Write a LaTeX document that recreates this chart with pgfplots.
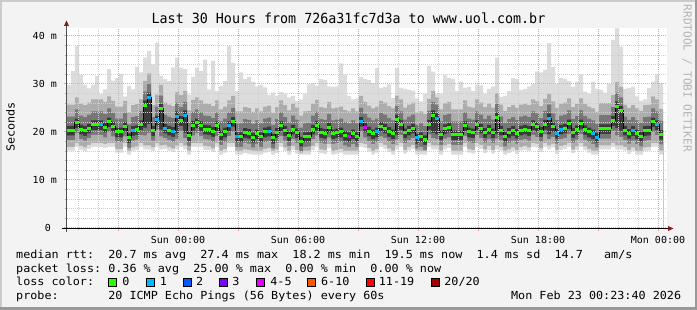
\documentclass[border=0pt]{standalone}
\usepackage{fontspec}
\setmainfont{DejaVu Sans Mono}
\newfontfamily\monoL[FakeStretch=1.06]{DejaVu Sans Mono}
\newfontfamily\monoT[FakeStretch=0.96]{DejaVu Sans Mono}
\newfontfamily\monoA[FakeStretch=1.03]{DejaVu Sans Mono}
\newfontfamily\monoU{DejaVu Sans Mono}
\usepackage{pgfplots}
\usepackage{pgfplotstable}
\pgfplotsset{compat=1.18}
\frenchspacing
\definecolor{canvas}{HTML}{F3F3F3}
\definecolor{shadea}{HTML}{CBCBCB}
\definecolor{shadeb}{HTML}{999999}
\definecolor{gridred}{HTML}{F2A0A0}
\definecolor{gridgrey}{HTML}{CFCFCF}
\definecolor{tickgrey}{HTML}{B0B0B0}
\definecolor{arrowred}{HTML}{8B1A1A}
\definecolor{yaxis}{HTML}{505050}
\definecolor{wm}{HTML}{B4B4B4}
\definecolor{s1}{HTML}{DCDCDC}
\definecolor{s2}{HTML}{ADADAD}
\definecolor{s3}{HTML}{777777}
\definecolor{s4}{HTML}{3A3A3A}
\definecolor{lc0}{HTML}{26FF00}
\definecolor{lc1}{HTML}{00B8FF}
\definecolor{lc2}{HTML}{0059FF}
\definecolor{lc3}{HTML}{7E00FF}
\definecolor{lc4}{HTML}{DD00FF}
\definecolor{lc6}{HTML}{FF5500}
\definecolor{lc11}{HTML}{FF0000}
\definecolor{lc20}{HTML}{A10000}
\pgfdeclareplotmark{lossbar}{\pgfpathrectangle{\pgfpoint{-2pt}{-1.5pt}}{\pgfpoint{4pt}{3pt}}\pgfusepathqfill}

\pgfplotstableread{
t mn l2 l3 l4 med u4 u3 u2 mx loss
-5.55 16.1 16.9 18.3 19.3 20.4 21.3 23.2 25.7 29.8 0
-5.35 16.1 16.9 18.3 19.3 20.4 21.3 23.2 25.7 32.7 0
-5.15 16.9 17.7 19.8 20.8 21.9 22.8 24.7 27.2 37.9 0
-4.95 16.3 17.1 18.5 19.5 20.6 21.5 23.4 25.9 31.9 0
-4.75 16.0 16.8 18.2 19.2 20.3 21.2 23.1 25.6 29.8 0
-4.55 16.5 17.3 18.7 19.7 20.8 21.7 23.6 26.1 29.1 0
-4.35 16.9 17.7 19.4 20.4 21.5 22.4 24.3 26.8 29.8 0
-4.15 16.9 17.7 19.4 20.4 21.5 22.4 24.3 26.8 31.7 0
-3.95 16.9 17.7 19.4 20.4 21.5 22.4 24.3 26.8 27.9 1
-3.75 16.7 17.5 18.9 19.9 21.0 21.9 23.8 26.3 28.9 0
-3.55 16.9 17.7 20.0 21.0 22.1 23.0 24.9 27.4 33.1 0
-3.35 16.9 17.7 19.1 20.1 21.2 22.1 24.0 26.5 30.7 0
-3.15 15.7 16.5 17.9 18.9 20.0 20.9 22.8 25.3 31.2 0
-2.95 15.7 16.5 17.9 18.9 20.0 20.9 22.8 25.3 32.1 0
-2.75 16.9 17.7 19.1 20.1 21.2 22.1 24.0 26.5 27.4 0
-2.55 15.3 16.1 16.7 17.7 18.8 19.7 21.6 24.1 29.6 0
-2.35 16.0 16.8 18.2 19.2 20.3 21.2 23.1 25.6 28.9 1
-2.15 16.2 17.0 18.4 19.4 20.5 21.4 23.3 25.8 33.6 0
-1.95 16.9 17.7 19.4 20.4 21.5 22.4 24.3 26.8 32.4 0
-1.75 16.4 17.2 19.3 20.9 25.6 26.6 28.4 30.6 35.5 0
-1.55 16.4 17.2 19.8 21.7 27.2 28.2 30.0 32.2 36.9 1
-1.35 16.0 16.8 18.2 19.2 20.3 21.2 23.1 25.6 34.1 0
-1.15 16.9 17.7 20.4 21.4 22.5 23.4 25.3 27.8 38.6 1
-0.95 16.4 17.2 19.1 20.5 24.8 25.8 27.6 29.8 31.7 0
-0.75 16.5 17.3 18.7 19.7 20.8 21.7 23.6 26.1 31.0 1
-0.55 16.1 16.9 18.3 19.3 20.4 21.3 23.2 25.7 30.6 0
-0.35 15.8 16.6 18.0 19.0 20.1 21.0 22.9 25.4 33.4 1
-0.15 16.4 17.2 18.6 19.7 23.3 24.3 26.1 28.3 35.5 1
0.05 16.9 17.7 20.3 21.3 22.4 23.3 25.2 27.7 33.4 0
0.25 16.4 17.2 18.7 19.8 23.5 24.5 26.3 28.5 33.1 1
0.45 15.3 16.1 17.1 18.1 19.2 20.1 22.0 24.5 27.8 0
0.65 16.9 17.7 19.3 20.3 21.4 22.3 24.2 26.7 31.5 0
0.85 16.9 17.7 19.8 20.8 21.9 22.8 24.7 27.2 33.4 0
1.05 16.9 17.7 19.2 20.2 21.25 22.2 24.1 26.6 32.7 0
1.25 16.3 17.1 18.5 19.5 20.6 21.5 23.4 25.9 35.1 0
1.45 16.2 17.0 18.4 19.4 20.5 21.4 23.3 25.8 28.9 0
1.65 15.8 16.6 18.0 19.0 20.1 21.0 22.9 25.4 34.8 0
1.85 16.9 17.7 19.2 20.2 21.25 22.2 24.1 26.6 28.5 0
2.05 15.3 16.1 17.3 18.3 19.4 20.3 22.2 24.7 29.6 0
2.25 15.7 16.5 17.9 18.9 20.0 20.9 22.8 25.3 30.6 0
2.45 16.9 17.7 19.2 20.2 21.25 22.2 24.1 26.6 37.9 1
2.65 16.9 17.7 20.1 21.1 22.2 23.1 25.0 27.5 34.4 0
2.85 15.3 16.1 16.9 17.9 19.0 19.9 21.8 24.3 28.5 1
3.05 15.3 16.1 16.9 17.9 19.0 19.9 21.8 24.3 32.4 0
3.25 15.6 16.4 17.8 18.8 19.9 20.8 22.7 25.2 31.0 0
3.45 15.4 16.2 17.6 18.6 19.7 20.6 22.5 25.0 31.5 0
3.65 15.3 16.1 16.8 17.8 18.9 19.8 21.7 24.2 30.5 0
3.85 15.3 16.1 17.5 18.5 19.6 20.5 22.4 24.9 29.5 0
4.05 15.3 16.1 16.9 17.9 19.0 19.9 21.8 24.3 29.8 0
4.25 15.7 16.5 17.9 18.9 20.0 20.9 22.8 25.3 29.3 0
4.45 15.9 16.7 18.1 19.1 20.2 21.1 23.0 25.5 27.7 1
4.65 15.3 16.1 16.6 17.6 18.75 19.6 21.5 24.0 28.2 0
4.85 15.6 16.4 17.8 18.8 19.9 20.8 22.7 25.2 27.5 0
5.05 16.9 17.7 19.2 20.2 21.25 22.2 24.1 26.6 28.3 0
5.25 16.0 16.8 18.2 19.2 20.3 21.2 23.1 25.6 28.0 0
5.45 15.3 16.1 17.1 18.1 19.2 20.1 22.0 24.5 27.2 0
5.65 16.3 17.1 18.5 19.5 20.6 21.5 23.4 25.9 27.5 0
5.85 15.5 16.3 17.7 18.7 19.8 20.7 22.6 25.1 26.5 0
6.05 15.3 15.7 16.0 17.0 18.05 19.0 20.9 23.4 26.8 0
6.25 15.3 16.1 16.9 17.9 19.0 19.9 21.8 24.3 28.0 0
6.45 15.3 16.1 17.0 18.0 19.1 20.0 21.9 24.4 29.9 0
6.65 16.3 17.1 18.5 19.5 20.6 21.5 23.4 25.9 30.2 0
6.85 16.9 17.7 19.3 20.3 21.4 22.3 24.2 26.7 29.6 0
7.05 15.6 16.4 17.8 18.8 19.9 20.8 22.7 25.2 31.0 0
7.25 15.4 16.2 17.6 18.6 19.65 20.6 22.5 25.0 30.8 0
7.45 16.7 17.5 18.9 19.9 21.0 21.9 23.8 26.3 29.5 0
7.65 15.3 16.1 17.5 18.5 19.6 20.5 22.4 24.9 29.4 0
7.85 15.5 16.3 17.7 18.7 19.8 20.7 22.6 25.1 29.5 0
8.05 15.7 16.5 17.9 18.9 20.0 20.9 22.8 25.3 34.3 0
8.25 15.3 16.1 17.2 18.2 19.3 20.2 22.1 24.6 32.0 0
8.45 15.3 16.1 16.9 17.9 19.0 19.9 21.8 24.3 27.5 4
8.65 15.3 16.1 17.5 18.5 19.6 20.5 22.4 24.9 26.8 0
8.85 15.3 16.1 16.9 17.9 19.0 19.9 21.8 24.3 27.0 0
9.05 16.9 17.7 20.1 21.1 22.15 23.1 25.0 27.5 31.5 1
9.25 16.7 17.5 18.9 19.9 21.0 21.9 23.8 26.3 31.0 4
9.45 15.9 16.7 18.1 19.1 20.2 21.1 23.0 25.5 30.8 0
9.65 15.3 16.1 17.5 18.5 19.6 20.5 22.4 24.9 30.2 0
9.85 15.7 16.5 17.9 18.9 20.0 20.9 22.8 25.3 33.3 1
10.05 16.9 17.7 19.1 20.1 21.2 22.1 24.0 26.5 29.2 0
10.25 16.5 17.3 18.7 19.7 20.8 21.7 23.6 26.1 29.4 0
10.45 15.8 16.6 18.0 19.0 20.1 21.0 22.9 25.4 29.9 0
10.65 15.3 16.1 17.5 18.5 19.6 20.5 22.4 24.9 27.1 0
10.85 16.4 17.2 18.4 19.4 22.6 23.6 25.4 27.6 33.3 0
11.05 16.9 17.7 19.4 20.4 21.5 22.4 24.3 26.8 29.2 0
11.25 15.5 16.3 17.7 18.7 19.8 20.7 22.6 25.1 29.0 0
11.45 16.1 16.9 18.3 19.3 20.35 21.3 23.2 25.7 28.8 0
11.65 16.5 17.3 18.7 19.7 20.8 21.7 23.6 26.1 28.6 0
11.85 15.3 16.1 16.6 17.6 18.75 19.6 21.5 24.0 27.0 1
12.05 15.3 16.1 16.9 17.9 19.0 19.9 21.8 24.3 26.4 0
12.25 15.3 16.0 16.3 17.3 18.4 19.3 21.2 23.7 28.0 0
12.45 16.9 17.7 19.5 20.5 21.6 22.5 24.4 26.9 33.8 0
12.65 16.4 17.2 18.7 19.8 23.5 24.5 26.3 28.5 32.6 0
12.85 16.4 17.2 18.5 19.5 22.9 23.9 25.7 27.2 28.0 1
13.05 15.3 16.1 17.3 18.3 19.4 20.3 22.2 24.7 28.0 0
13.25 16.4 17.2 18.6 19.6 20.7 21.6 23.5 26.0 31.9 0
13.45 16.7 17.5 18.9 19.9 21.0 21.9 23.8 26.3 31.2 0
13.65 15.3 16.1 17.3 18.3 19.4 20.3 22.2 24.7 31.0 0
13.85 15.3 16.1 17.3 18.3 19.4 20.3 22.2 24.7 28.5 0
14.05 15.3 16.1 17.3 18.3 19.4 20.3 22.2 24.7 30.5 0
14.25 16.9 17.7 19.2 20.2 21.25 22.2 24.1 26.6 29.2 0
14.45 15.7 16.5 17.9 18.9 20.0 20.9 22.8 25.3 29.4 0
14.65 15.5 16.3 17.7 18.7 19.8 20.7 22.6 25.1 28.5 0
14.85 16.9 17.7 19.4 20.4 21.5 22.4 24.3 26.8 29.9 0
15.05 16.5 17.3 18.7 19.7 20.8 21.7 23.6 26.1 29.7 0
15.25 15.6 16.4 17.8 18.8 19.9 20.8 22.7 25.2 28.0 0
15.45 16.3 17.1 18.5 19.5 20.6 21.5 23.4 25.9 29.0 0
15.65 15.5 16.3 17.7 18.7 19.8 20.7 22.6 25.1 29.5 0
15.85 16.4 17.2 18.6 19.6 23.05 24.1 25.9 28.1 35.5 0
16.05 16.1 16.9 18.3 19.3 20.35 21.3 23.2 25.7 27.3 0
16.25 15.3 16.1 17.0 18.0 19.1 20.0 21.9 24.4 27.5 0
16.45 15.6 16.4 17.8 18.8 19.9 20.8 22.7 25.2 28.5 0
16.65 16.0 16.8 18.2 19.2 20.3 21.2 23.1 25.6 31.2 0
16.85 15.4 16.2 17.6 18.6 19.7 20.6 22.5 25.0 31.0 0
17.05 16.1 16.9 18.3 19.3 20.35 21.3 23.2 25.7 28.8 0
17.25 16.3 17.1 18.5 19.5 20.6 21.5 23.4 25.9 29.0 0
17.45 16.0 16.8 18.2 19.2 20.3 21.2 23.1 25.6 29.5 0
17.65 16.9 17.7 19.4 20.4 21.5 22.4 24.3 26.8 30.0 0
17.85 16.8 17.6 19.0 20.0 21.1 22.0 23.9 26.4 32.6 0
18.05 15.8 16.6 18.0 19.0 20.1 21.0 22.9 25.4 32.4 0
18.25 16.9 17.7 19.5 20.5 21.6 22.5 24.4 26.9 33.0 0
18.45 16.4 17.2 18.5 19.5 22.85 23.9 25.7 27.9 38.5 1
18.65 16.8 17.6 19.0 20.0 21.1 22.0 23.9 26.4 33.5 0
18.85 15.4 16.2 17.6 18.6 19.65 20.6 22.5 25.0 30.0 1
19.05 16.3 17.1 18.5 19.5 20.55 21.5 23.4 25.9 31.2 1
19.25 16.5 17.3 18.7 19.7 20.8 21.7 23.6 26.1 31.0 0
19.45 16.9 17.7 19.6 20.6 21.7 22.6 24.5 27.0 30.6 0
19.65 15.6 16.4 17.8 18.8 19.9 20.8 22.7 25.2 29.4 0
19.85 16.2 17.0 18.4 19.4 20.5 21.4 23.3 25.8 30.5 0
20.05 16.9 17.7 19.6 20.6 21.7 22.6 24.5 27.0 32.0 0
20.25 16.2 17.0 18.4 19.4 20.5 21.4 23.3 25.8 28.4 0
20.45 15.7 16.5 17.9 18.9 20.0 20.9 22.8 25.3 28.0 0
20.65 15.3 16.1 17.5 18.5 19.6 20.5 22.4 24.9 30.5 1
20.85 15.3 16.1 16.8 17.8 18.9 19.8 21.7 24.2 29.0 1
21.05 16.4 17.2 18.6 19.6 20.7 21.6 23.5 26.0 28.8 0
21.25 16.4 17.2 18.6 19.6 20.7 21.6 23.5 26.0 28.2 0
21.45 16.4 17.2 18.6 19.6 20.7 21.6 23.5 26.0 30.0 0
21.65 16.9 17.7 20.3 21.3 22.4 23.3 25.2 27.7 39.2 0
21.85 16.4 17.2 19.3 20.8 25.4 26.4 28.2 30.4 41.6 0
22.05 16.4 17.2 19.0 20.3 24.4 25.4 27.2 29.4 37.8 0
22.25 16.1 16.9 18.3 19.3 20.35 21.3 23.2 25.7 29.0 0
22.45 15.4 16.2 17.6 18.6 19.65 20.6 22.5 25.0 29.2 0
22.65 16.0 16.8 18.2 19.2 20.3 21.2 23.1 25.6 29.4 1
22.85 15.3 16.1 17.5 18.5 19.6 20.5 22.4 24.9 27.4 0
23.05 15.3 16.1 17.0 18.0 19.1 20.0 21.9 24.4 26.5 0
23.25 16.0 16.8 18.2 19.2 20.3 21.2 23.1 25.6 26.8 0
23.45 16.1 16.9 18.3 19.3 20.35 21.3 23.2 25.7 29.2 0
23.65 16.9 17.7 20.0 21.0 22.1 23.0 24.9 27.4 30.5 0
23.85 16.9 17.7 19.4 20.4 21.5 22.4 24.3 26.8 32.0 1
24.05 15.3 16.1 17.4 18.4 19.45 20.4 22.3 24.8 30.2 0
24.25 15.3 16.1 17.4 18.4 19.45 20.4 22.3 24.8 30.2 9
}\smoke

\begin{document}
\begin{tikzpicture}
\begin{scope}[x=1pt,y=1pt]
\fill[canvas] (0,0) rectangle (697,310);
\fill[shadea] (0,308) rectangle (697,310);
\fill[shadea] (0,0) rectangle (2,310);
\fill[shadeb] (0,0) rectangle (697,3);
\fill[shadeb] (695,0) rectangle (697,310);
\end{scope}
\begin{axis}[
  at={(67pt,82pt)}, anchor=south west,
  scale only axis, width=600pt, height=200pt,
  xmin=-5.55, xmax=24.45, ymin=0, ymax=41.6667,
  axis lines*=left, axis line style={draw=none},
  axis background/.style={fill=white},
  axis on top,
  xtick={-3,0,3,6,9,12,15,18,21,24},
  xticklabels={{},Sun 00:00,{},Sun 06:00,{},Sun 12:00,{},Sun 18:00,{},Mon 00:00},
  minor xtick={-5,-4,-2,-1,1,2,4,5,7,8,10,11,13,14,16,17,19,20,22,23},
  ytick={0,10,20,30,40},
  yticklabels={0~~,10 m,20 m,30 m,40 m},
  minor ytick={2,4,6,8,12,14,16,18,22,24,26,28,32,34,36,38},
  grid=both,
  major grid style={draw=gridred, line width=1pt, dash pattern=on 1pt off 1pt},
  minor grid style={draw=gridgrey, line width=1pt, dash pattern=on 1pt off 1pt},
  tick align=outside,
  major tick length=3pt, minor tick length=2pt,
  major tick style={draw=gridred, line width=1pt},
  minor tick style={draw=tickgrey, line width=1pt},
  ticklabel style={font=\monoA\fontsize{9.7}{11}\selectfont, inner sep=0pt},
  xticklabel style={anchor=base, yshift=-13pt},
  yticklabel style={anchor=east, xshift=-7pt},
]
\addplot[const plot, fill=s1, draw=none] table[x=t,y=mx]{\smoke} \closedcycle;
\addplot[const plot, fill=s2, draw=none] table[x=t,y=u2]{\smoke} \closedcycle;
\addplot[const plot, fill=s3, draw=none] table[x=t,y=u3]{\smoke} \closedcycle;
\addplot[const plot, fill=s4, draw=none] table[x=t,y=u4]{\smoke} \closedcycle;
\addplot[const plot, fill=s3, draw=none] table[x=t,y=l4]{\smoke} \closedcycle;
\addplot[const plot, fill=s2, draw=none] table[x=t,y=l3]{\smoke} \closedcycle;
\addplot[const plot, fill=s1, draw=none] table[x=t,y=l2]{\smoke} \closedcycle;
\addplot[const plot, fill=white, draw=none] table[x=t,y=mn]{\smoke} \closedcycle;
\addplot[const plot, draw=black, line width=1pt] table[x=t,y=med]{\smoke};
\addplot[only marks, mark=lossbar, color=lc0, restrict expr to domain={\thisrow{loss}}{0:0}] table[x expr=\thisrow{t}+0.1, y=med]{\smoke};
\addplot[only marks, mark=lossbar, color=lc1, restrict expr to domain={\thisrow{loss}}{1:1}] table[x expr=\thisrow{t}+0.1, y=med]{\smoke};
\addplot[only marks, mark=lossbar, color=lc4, restrict expr to domain={\thisrow{loss}}{4:4}] table[x expr=\thisrow{t}+0.1, y=med]{\smoke};
\end{axis}
\begin{scope}[x=1pt,y=1pt]
\draw[yaxis, line width=1pt] (66.5,78) -- (66.5,284);
\fill[arrowred] (64,284) -- (69,284) -- (66.5,289.5) -- cycle;
\draw[black, line width=1pt] (62,81.5) -- (668,81.5);
\fill[arrowred] (668,84) -- (668,79) -- (673.5,81.5) -- cycle;
\node[anchor=base, inner sep=0pt, font=\monoT\fontsize{13.9}{16}\selectfont] at (348.5,286) {Last 30 Hours from 726a31fc7d3a to www.uol.com.br};
\node[rotate=90, inner sep=0pt, font=\monoL\fontsize{11.1}{13}\selectfont] at (10.5,183) {Seconds};
\node[rotate=-90, anchor=base west, inner sep=0pt, text=wm, font=\monoU\fontsize{11.1}{13}\selectfont] at (683.5,305.5) {RRDTOOL / TOBI OETIKER};
\begin{scope}[every node/.style={inner sep=0pt, anchor=base west, font=\monoL\fontsize{11.1}{13}\selectfont}]
\node at (16,51.7) {median rtt:~~20.7 ms avg~~27.4 ms max~~18.2 ms min~~19.5 ms now~~1.4 ms sd~~14.7~~~am/s};
\node at (16,37.7) {packet loss: 0.36 \% avg~~25.00 \% max~~0.00 \% min~~0.00 \% now};
\node at (16,24) {loss color:};
\node at (16,10) {probe:~~~~~~~20 ICMP Echo Pings (56 Bytes) every 60s};
\node[anchor=base east] at (681.3,10) {Mon Feb 23 00:23:40 2026};
\node at (122.2,24) {0};
\node at (159.7,24) {1};
\node at (195.9,24) {2};
\node at (232.2,24) {3};
\node at (270.2,24) {4-5};
\node at (320.9,24) {6-10};
\node at (378.7,24) {11-19};
\node at (444.2,24) {20/20};
\end{scope}
\begin{scope}[line width=0.8pt, draw=black]
\filldraw[fill=lc0] (108.4,23.7) rectangle (116.6,31.5);
\filldraw[fill=lc1] (146.4,23.7) rectangle (154.6,31.5);
\filldraw[fill=lc2] (183.4,23.7) rectangle (191.6,31.5);
\filldraw[fill=lc3] (219.4,23.7) rectangle (227.6,31.5);
\filldraw[fill=lc4] (256.4,23.7) rectangle (264.6,31.5);
\filldraw[fill=lc6] (307.4,23.7) rectangle (315.6,31.5);
\filldraw[fill=lc11] (366.4,23.7) rectangle (374.6,31.5);
\filldraw[fill=lc20] (431.4,23.7) rectangle (439.6,31.5);
\end{scope}
\end{scope}
\pgfresetboundingbox
\useasboundingbox (0pt,0pt) rectangle (697pt,310pt);
\end{tikzpicture}
\end{document}
